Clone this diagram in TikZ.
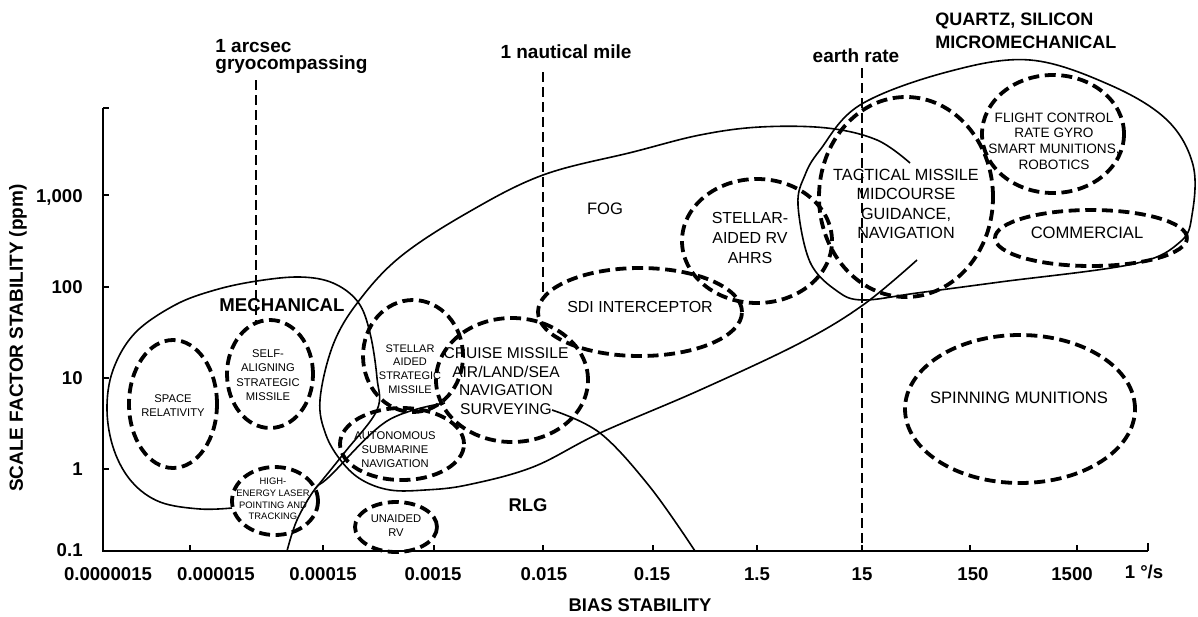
\documentclass[tikz,border=0pt]{standalone}
\usepackage{fontspec}
\setmainfont{Liberation Sans}
\usetikzlibrary{shapes.geometric}
\newcommand\fsz[2]{\fontsize{#1}{#2}\selectfont}
\begin{document}
\begin{tikzpicture}[x=0.5pt,y=-0.5pt,
 appl/.style={draw, ellipse, line width=1.9pt, dash pattern=on 5.5pt off 2.8pt, inner sep=0, outer sep=0},
 region/.style={line width=0.8pt},
 refline/.style={line width=0.65pt, dash pattern=on 5pt off 2.5pt},
 axisline/.style={line width=1pt},
 lbl/.style={font=\fsz{9.5}{11}\bfseries, inner sep=0},
 ticklbl/.style={font=\fsz{9.3}{11}\bfseries, inner sep=0},
 big/.style={font=\fsz{8}{9.8}, inner sep=0, align=center},
 cruisetxt/.style={font=\fsz{7.8}{9.35}, inner sep=0, align=center},
 mid/.style={font=\fsz{6.8}{7.8}, inner sep=0, align=center},
 small/.style={font=\fsz{5.6}{7}, inner sep=0, align=center},
 tiny/.style={font=\fsz{4.7}{5.8}, inner sep=0, align=center},
]
\useasboundingbox (0,0) rectangle (1198,616);

% reference lines
\coordinate (arcTop) at (256,80);  \coordinate (arcBot) at (256,321);
\coordinate (nmTop) at (543,72);   \coordinate (nmBot) at (543,298);
\coordinate (erTop) at (862,68);   \coordinate (erBot) at (862,551);
\draw[refline] (arcTop) -- (arcBot);
\draw[refline] (nmTop) -- (nmBot);
\draw[refline] (erTop) -- (erBot);

% regions
\draw[region] plot[smooth, tension=0.6] coordinates {(232,508) (200,509) (160,502) (132,482) (114,450) (107,410) (113,370) (135,333) (175,305) (215,290) (257,281) (300,277) (333,283) (358,302) (370,333) (377,378) (377,410) (345,452) (315,489)};
\draw[region] plot[smooth, tension=0.6] coordinates {(910,163) (877,140) (827,128) (760,127) (700,135) (633,152) (543,175) (467,213) (400,257) (358,302) (333,345) (320,400) (326,435) (342,462) (362,480) (390,490) (425,490) (467,485) (533,467) (600,433) (700,390) (800,343) (863,305) (917,260)};
\draw[region] plot[smooth cycle, tension=0.6] coordinates {(798,205) (805,175) (820,150) (860,105) (947,72) (1030,60) (1110,85) (1167,120) (1193,165) (1192,215) (1180,242) (1133,264) (1000,282) (917,293) (863,300) (837,291) (810,262)};
\draw[region] plot[smooth, tension=0.6] coordinates {(287,551) (297,520) (315,489) (330,476) (387,421) (445,403)};
\draw[region] plot[smooth, tension=0.6] coordinates {(552,410) (600,433) (650,487) (695,551)};

% application ellipses
\node[appl, minimum width=44pt, minimum height=64pt] (space) at (173,404) {};
\node[appl, minimum width=43pt, minimum height=54pt] (selfalign) at (270,374) {};
\node[appl, minimum width=43pt, minimum height=34pt] (laser) at (275,501) {};
\node[appl, minimum width=41pt, minimum height=25pt] (unaided) at (396,527) {};
\node[appl, minimum width=62pt, minimum height=36pt] (auton) at (402,444) {};
\node[appl, minimum width=50pt, minimum height=56pt] (stellarsm) at (413,356) {};
\node[appl, minimum width=76pt, minimum height=62pt] (cruise) at (512,380) {};
\node[appl, minimum width=102pt, minimum height=44pt] (sdi) at (640,312) {};
\node[appl, minimum width=75pt, minimum height=62pt] (stellarrv) at (757,241) {};
\node[appl, minimum width=87pt, minimum height=100pt] (tactical) at (906,197) {};
\node[appl, minimum width=71pt, minimum height=59pt] (flight) at (1053,134) {};
\node[appl, minimum width=96pt, minimum height=28pt] (commercial) at (1091,238) {};
\node[appl, minimum width=115pt, minimum height=74pt] (spinning) at (1020,409) {};

% application texts
\node[small] (tspace) at (173,406) {SPACE\\RELATIVITY};
\node[small, font=\fsz{5.6}{7.2}] (tself) at (268,375) {SELF-\\ALIGNING\\STRATEGIC\\MISSILE};
\node[tiny] (tlaser) at (273,499) {HIGH-\\ENERGY LASER\\POINTING AND\\TRACKING};
\node[small] (tunaided) at (396,526) {UNAIDED\\RV};
\node[small] (tauton) at (395,450) {AUTONOMOUS\\SUBMARINE\\NAVIGATION};
\node[small, font=\fsz{5.5}{6.9}] (tstellarsm) at (410,369) {STELLAR\\AIDED\\STRATEGIC\\MISSILE};
\node[cruisetxt] (tcruise) at (506,381) {CRUISE MISSILE\\AIR/LAND/SEA\\NAVIGATION\\SURVEYING};
\node[big] (tsdi) at (640,307) {SDI INTERCEPTOR};
\node[big, font=\fsz{8}{10}] (tstellarrv) at (750,238) {STELLAR-\\AIDED RV\\AHRS};
\node[big, font=\fsz{8.1}{9.7}] (ttactical) at (906,204) {TACTICAL MISSILE\\MIDCOURSE\\GUIDANCE,\\NAVIGATION};
\node[mid] (tflight) at (1054,141) {FLIGHT CONTROL\\RATE GYRO\\SMART MUNITIONS,\\ROBOTICS};
\node[big, font=\fsz{8.3}{10}] (tcommercial) at (1087,233) {COMMERCIAL};
\node[big, font=\fsz{8.3}{10}] (tspinning) at (1019,398) {SPINNING MUNITIONS};

% region labels
\node[lbl, font=\fsz{9.3}{11}\bfseries] (tmech) at (282,305) {MECHANICAL};
\node[big, font=\fsz{8.3}{10}] (tfog) at (605,209) {FOG};
\node[lbl, font=\fsz{9.2}{11}\bfseries] (trlg) at (528,505) {RLG};

% top labels
\node[lbl, anchor=base west] (arc1) at (215,52) {1 arcsec};
\node[lbl, anchor=base west] (arc2) at (215,69) {gryocompassing};
\node[lbl, anchor=base] (nm) at (566,58) {1 nautical mile};
\node[lbl, anchor=base] (er) at (856,62) {earth rate};
\node[lbl, font=\fsz{9}{11}\bfseries, anchor=base west] (q1) at (935,25) {QUARTZ, SILICON};
\node[lbl, font=\fsz{9}{11}\bfseries, anchor=base west] (q2) at (935,48) {MICROMECHANICAL};

% axes
\coordinate (ytop) at (103,108);
\coordinate (org) at (103,551);
\coordinate (xend) at (1148,551);
\draw[axisline] (ytop) -- (org) -- (xend);
\foreach \yy in {108,195,287,378,469} \draw[axisline] (103,\yy) -- (109,\yy);
\foreach \xx in {190,323,434,543,653,757,862,970,1077} \draw[axisline] (\xx,551) -- (\xx,545);
\draw[axisline] (1148,551) -- (1148,543);

% tick labels
\node[ticklbl, anchor=base east] (y1000) at (83,202) {1,000};
\node[ticklbl, anchor=base east] (y100) at (83,293) {100};
\node[ticklbl, anchor=base east] (y10) at (83,384) {10};
\node[ticklbl, anchor=base east] (y1) at (83,475) {1};
\node[ticklbl, anchor=base east] (y01) at (83,556) {0.1};

\node[ticklbl, anchor=base] (x1) at (108,580) {0.0000015};
\node[ticklbl, anchor=base] (x2) at (216,580) {0.000015};
\node[ticklbl, anchor=base] (x3) at (323,580) {0.00015};
\node[ticklbl, anchor=base] (x4) at (433,580) {0.0015};
\node[ticklbl, anchor=base] (x5) at (544,580) {0.015};
\node[ticklbl, anchor=base] (x6) at (652,580) {0.15};
\node[ticklbl, anchor=base] (x7) at (757,580) {1.5};
\node[ticklbl, anchor=base] (x8) at (862,580) {15};
\node[ticklbl, anchor=base] (x9) at (973,580) {150};
\node[ticklbl, anchor=base] (x10) at (1072,580) {1500};
\node[ticklbl, anchor=base] (x11) at (1144,578) {1 °/s};

% axis titles
\node[lbl, rotate=90] (ylabel) at (18,338) {SCALE FACTOR STABILITY (ppm)};
\node[lbl, font=\fsz{9.2}{11}\bfseries] (xlabel) at (640,605) {BIAS STABILITY};
\end{tikzpicture}
\end{document}
